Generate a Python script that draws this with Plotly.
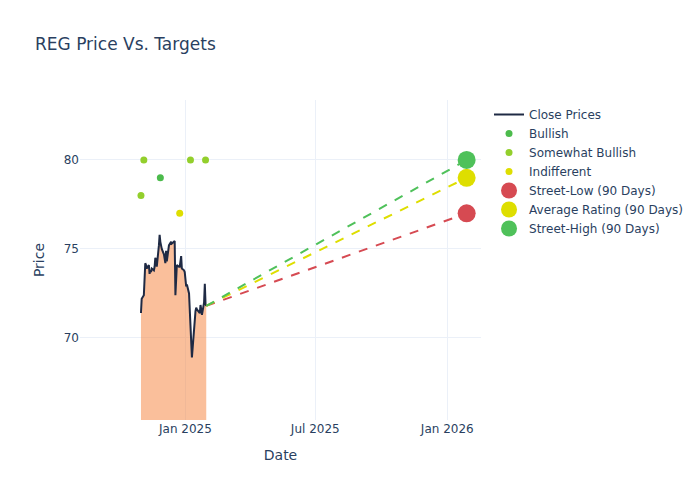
import plotly.graph_objects as go

# Close prices
close_dates = [
    "2024-10-31", "2024-11-01", "2024-11-04", "2024-11-05", "2024-11-06", "2024-11-07", "2024-11-08",
    "2024-11-11", "2024-11-12", "2024-11-13", "2024-11-14", "2024-11-15",
    "2024-11-18", "2024-11-19", "2024-11-20", "2024-11-21", "2024-11-22",
    "2024-11-25", "2024-11-26", "2024-11-27", "2024-11-29",
    "2024-12-02", "2024-12-03", "2024-12-04", "2024-12-05", "2024-12-06",
    "2024-12-09", "2024-12-10", "2024-12-11", "2024-12-12", "2024-12-13",
    "2024-12-16", "2024-12-17", "2024-12-18", "2024-12-19", "2024-12-20",
    "2024-12-23", "2024-12-24", "2024-12-26", "2024-12-27", "2024-12-30", "2024-12-31",
    "2025-01-02", "2025-01-03", "2025-01-06", "2025-01-07", "2025-01-08", "2025-01-10",
    "2025-01-13", "2025-01-14", "2025-01-15", "2025-01-16", "2025-01-17",
    "2025-01-21", "2025-01-22", "2025-01-23", "2025-01-24",
    "2025-01-27", "2025-01-28", "2025-01-29", "2025-01-30",
]
close_prices = [
    71.4, 72.2, 72.4, 73.1, 74.2, 74.1, 73.9,
    74.1, 73.6, 73.8, 73.7, 73.9,
    73.8, 74.0, 74.5, 74.4, 74.0,
    75.2, 75.8, 75.4, 75.0,
    74.7, 74.5, 74.2, 74.9, 74.3,
    75.2, 75.3, 75.4, 75.4, 75.3,
    75.4, 75.45, 72.4, 73.8, 74.1,
    74.0, 74.0, 74.6, 73.9, 73.8, 73.7,
    72.9, 73.0, 72.5, 71.85, 70.7, 68.9,
    70.7, 71.3, 71.5, 71.7, 71.6,
    71.4, 71.85, 71.6, 71.3,
    72.0, 73.05, 71.9, 71.8,
]

# Analyst ratings
bullish_dates = ["2024-11-27"]
bullish_targets = [79]
somewhat_dates = ["2024-10-31", "2024-11-04", "2025-01-08", "2025-01-29"]
somewhat_targets = [78, 80, 80, 80]
indifferent_dates = ["2024-12-24"]
indifferent_targets = [77]

# 90-day targets
target_date = "2026-01-28"
street_low = 77
average_rating = 79
street_high = 80

C_LOW = "#d64a52"
C_AVG = "#dede00"
C_HIGH = "#4fc15a"
C_BULL = "#4cbb4c"
C_SWB = "#93cf2c"
C_IND = "#dede00"

fig = go.Figure()

fig.add_trace(go.Scatter(
    x=close_dates, y=close_prices, mode="lines", showlegend=False, hoverinfo="skip",
    line=dict(width=0, color="rgba(246,128,56,0.5)"),
    fill="tozeroy", fillcolor="rgba(246,128,56,0.5)",
))
fig.add_trace(go.Scatter(
    x=close_dates, y=close_prices, mode="lines", name="Close Prices",
    line=dict(color="#1f2a44", width=2),
))

last_date = close_dates[-1]
last_price = close_prices[-1]
for tgt, col in [(street_low, C_LOW), (average_rating, C_AVG), (street_high, C_HIGH)]:
    fig.add_trace(go.Scatter(
        x=[last_date, target_date], y=[last_price, tgt], mode="lines",
        line=dict(color=col, dash="dash", width=2), showlegend=False, hoverinfo="skip",
    ))

fig.add_trace(go.Scatter(x=bullish_dates, y=bullish_targets, mode="markers", name="Bullish",
                         marker=dict(color=C_BULL, size=7)))
fig.add_trace(go.Scatter(x=somewhat_dates, y=somewhat_targets, mode="markers", name="Somewhat Bullish",
                         marker=dict(color=C_SWB, size=7)))
fig.add_trace(go.Scatter(x=indifferent_dates, y=indifferent_targets, mode="markers", name="Indifferent",
                         marker=dict(color=C_IND, size=7)))

fig.add_trace(go.Scatter(x=[target_date], y=[street_low], mode="markers", name="Street-Low (90 Days)",
                         marker=dict(color=C_LOW, size=18)))
fig.add_trace(go.Scatter(x=[target_date], y=[average_rating], mode="markers", name="Average Rating (90 Days)",
                         marker=dict(color=C_AVG, size=18)))
fig.add_trace(go.Scatter(x=[target_date], y=[street_high], mode="markers", name="Street-High (90 Days)",
                         marker=dict(color=C_HIGH, size=18)))

fig.update_layout(
    template="plotly_white",
    width=700, height=500,
    font=dict(family="DejaVu Sans"),
    title=dict(text="REG Price Vs. Targets"),
    xaxis=dict(title="Date", range=["2024-08-07", "2026-02-17"],
               tickvals=["2025-01-01", "2025-07-01", "2026-01-01"],
               ticktext=["Jan 2025", "Jul 2025", "Jan 2026"]),
    yaxis=dict(title="Price", range=[65.39, 83.37], tickvals=[70, 75, 80]),
)

fig.write_html("out.html", config={"displayModeBar": False},
               post_script="document.body.style.margin='0';")
